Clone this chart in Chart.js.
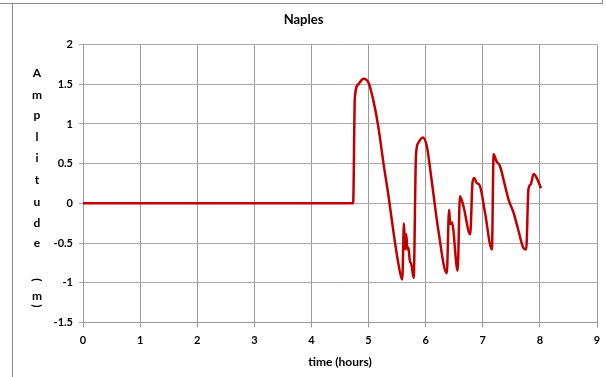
<!DOCTYPE html>
<html>
<head>
<meta charset="utf-8">
<script src="https://cdn.jsdelivr.net/npm/chart.js@4/dist/chart.umd.min.js"></script>
<style>
  body { margin: 0; background: #fff; }
  #wrap { position: relative; width: 607px; height: 377px; overflow: hidden; }
  #frameTop { position: absolute; left: 0; top: 3px; width: 602px; height: 0; border-top: 1px solid #8c8c8c; }
  #frameLeft { position: absolute; left: 12px; top: 3px; width: 0; height: 374px; border-left: 1px solid #8c8c8c; }
  #frameRight { position: absolute; left: 602px; top: 0; width: 0; height: 4px; border-left: 1px solid #8c8c8c; }
  #yTitle { position: absolute; left: 27px; top: 0; width: 20px; font: bold 12px Lato, sans-serif; color: #000; }
  #yTitle span { position: absolute; left: 0; width: 20px; text-align: center; line-height: 14px; }
  canvas { position: absolute; left: 0; top: 0; }
</style>
</head>
<body>
<div id="wrap">
  <canvas id="chart" width="607" height="377"></canvas>
  <div id="frameTop"></div>
  <div id="frameLeft"></div>
  <div id="frameRight"></div>
  <div id="yTitle"></div>
</div>
<script>
// time in hours and amplitude in metres
const times = [0, 4.73, 4.76, 4.82, 4.91, 5.0, 5.08, 5.17, 5.26, 5.35, 5.43, 5.52, 5.59,
    5.62, 5.64, 5.66, 5.68, 5.70, 5.72, 5.75, 5.79, 5.83, 5.87, 5.95, 6.02, 6.11, 6.22,
    6.37, 6.41, 6.43, 6.46, 6.56, 6.60, 6.66, 6.78, 6.82, 6.85, 6.89, 6.95, 7.04, 7.16,
    7.19, 7.24, 7.30, 7.39, 7.45, 7.54, 7.62, 7.71, 7.76, 7.80, 7.84, 7.89, 7.93, 8.02];
const amplitude = [0, 0, 1.33, 1.50, 1.57, 1.52, 1.31, 0.97, 0.51, 0.09, -0.33, -0.75, -0.96,
    -0.25, -0.58, -0.39, -0.58, -0.56, -0.71, -0.77, -0.94, 0.60, 0.76, 0.83, 0.72, 0.26, -0.33,
    -0.88, -0.08, -0.26, -0.24, -0.85, 0.09, -0.03, -0.39, 0.26, 0.32, 0.26, 0.22, -0.12, -0.58,
    0.62, 0.53, 0.47, 0.22, 0.05, -0.12, -0.33, -0.56, -0.58, 0.18, 0.24, 0.37, 0.34, 0.19];

const xTicks = [0, 1, 2, 3, 4, 5, 6, 7, 8, 9];
const yTicks = [-1.5, -1, -0.5, 0, 0.5, 1, 1.5, 2];

const chartTitle = 'Naples';
const xTitle = 'time (hours)';
const yTitleChars = ['A', 'm', 'p', 'l', 'i', 't', 'u', 'd', 'e', '(', 'm', ')'];

// stacked y title, one character per line like the spreadsheet does it
const yTitleTops = [73, 95, 115, 137, 158, 180, 202, 223, 243, 280, 296, 306];
const yTitleEl = document.getElementById('yTitle');
yTitleChars.forEach((ch, i) => {
    const s = document.createElement('span');
    s.textContent = ch;
    s.style.top = (yTitleTops[i] - 7) + 'px';
    if (ch === '(' || ch === ')') s.style.transform = 'rotate(90deg)';
    yTitleEl.appendChild(s);
});

const points = times.map((t, i) => ({ x: t, y: amplitude[i] }));
const tickFont = { family: 'Lato, sans-serif', size: 11, weight: 'bold' };

new Chart(document.getElementById('chart'), {
    type: 'line',
    data: {
        datasets: [{
            data: points,
            borderColor: '#c00000',
            borderWidth: 2.5,
            pointRadius: 0,
            fill: false,
            cubicInterpolationMode: 'monotone'
        }]
    },
    options: {
        responsive: false,
        animation: false,
        layout: { padding: { left: 10, right: 10, top: 0, bottom: 4 } },
        plugins: {
            legend: { display: false },
            tooltip: { enabled: false },
            title: {
                display: true,
                text: chartTitle,
                color: '#000',
                font: { family: 'Lato, sans-serif', size: 13, weight: 'bold' },
                padding: { top: 12, bottom: 17 }
            }
        },
        scales: {
            x: {
                type: 'linear',
                min: 0,
                max: 9,
                afterBuildTicks: (axis) => { axis.ticks = xTicks.map(v => ({ value: v })); },
                grid: { color: '#9a9a9a', tickLength: 5, drawTicks: true },
                border: { color: '#9a9a9a' },
                ticks: { color: '#000', font: tickFont, padding: 6, maxRotation: 0,
                         callback: (v) => String(v) },
                title: {
                    display: true,
                    text: xTitle,
                    color: '#000',
                    font: { family: 'Lato, sans-serif', size: 12, weight: 'bold' },
                    padding: { top: 2, bottom: 4 }
                }
            },
            y: {
                min: -1.5,
                max: 2,
                afterBuildTicks: (axis) => { axis.ticks = yTicks.map(v => ({ value: v })); },
                afterFit: (axis) => { axis.width = 73; },
                grid: { color: '#ababab', tickLength: 4, drawTicks: true },
                border: { color: '#9a9a9a' },
                ticks: { color: '#000', font: tickFont, padding: 6,
                         callback: (v) => String(v) }
            }
        }
    }
});
</script>
</body>
</html>
